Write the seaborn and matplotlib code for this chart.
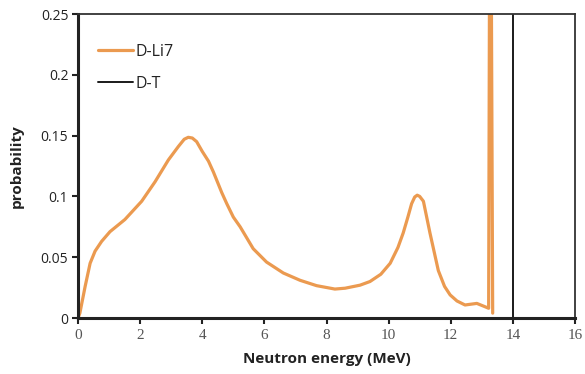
import matplotlib
matplotlib.use("Agg")
import matplotlib.pyplot as plt
import seaborn as sns
import pandas as pd

# D-Li7 neutron spectrum
li_energy = [0.0, 0.06, 0.23, 0.39, 0.55, 0.76, 1.03, 1.51, 2.05, 2.48, 2.91, 3.23, 3.42,
             3.55, 3.68, 3.82, 4.0, 4.20, 4.36, 4.63, 4.79, 5.0, 5.22, 5.64, 6.07, 6.61,
             7.15, 7.68, 8.27, 8.6, 9.08, 9.40, 9.75, 10.05, 10.3, 10.47, 10.62, 10.74,
             10.84, 10.92, 11.0, 11.12, 11.33, 11.6, 11.8, 11.98, 12.2, 12.46, 12.84,
             13.1, 13.22, 13.27, 13.35]
li_prob = [0.000, 0.004, 0.026, 0.045, 0.055, 0.063, 0.071, 0.081, 0.096, 0.112, 0.130,
           0.141, 0.147, 0.1486, 0.148, 0.145, 0.137, 0.129, 0.120, 0.103, 0.094, 0.083,
           0.075, 0.057, 0.046, 0.037, 0.031, 0.0266, 0.0238, 0.0245, 0.027, 0.030,
           0.036, 0.045, 0.058, 0.070, 0.083, 0.094, 0.0995, 0.101, 0.1, 0.096, 0.070,
           0.039, 0.026, 0.019, 0.014, 0.0107, 0.012, 0.0093, 0.008, 0.50, 0.004]

# D-T mono-energetic line
dt_energy = [14.0, 14.0]
dt_prob = [0.0, 1.0]

x_ticks = [0, 2, 4, 6, 8, 10, 12, 14, 16]
y_ticks = [0, 0.05, 0.1, 0.15, 0.2, 0.25]
y_ticklabels = ["0", "0.05", "0.1", "0.15", "0.2", "0.25"]

sns.set_theme(style="white")
plt.rcParams['font.family'] = ['Open Sans', 'DejaVu Sans']

fig = plt.figure(figsize=(5.85, 3.74), dpi=100)
ax = fig.add_axes([78/585, 1 - 318/374, (575-78)/585, (318-14)/374])

df_li = pd.DataFrame({"energy": li_energy, "prob": li_prob})
df_dt = pd.DataFrame({"energy": dt_energy, "prob": dt_prob})

sns.lineplot(data=df_li, x="energy", y="prob", ax=ax, estimator=None, sort=False,
             color="#EB9A50", linewidth=2.3, label="D-Li7")
sns.lineplot(data=df_dt, x="energy", y="prob", ax=ax, estimator=None, sort=False,
             color="#1a1a1a", linewidth=1.4, label="D-T")
for ln in ax.get_lines():
    ln.set_solid_joinstyle("round")
    ln.set_solid_capstyle("round")

ax.set_xlim(0, 16)
ax.set_ylim(0, 0.25)
ax.set_xticks(x_ticks)
ax.set_xticklabels([str(t) for t in x_ticks], family="Liberation Serif", fontsize=11, color="#555555")
ax.set_yticks(y_ticks)
ax.set_yticklabels(y_ticklabels, fontsize=10, color="#222222")

ax.tick_params(axis="both", direction="out", length=4, width=1.5, color="#222222",
               bottom=True, left=True, top=False, right=False)
ax.tick_params(axis="x", pad=4)
ax.tick_params(axis="y", pad=3)

for side in ["left", "bottom"]:
    ax.spines[side].set_linewidth(2.2)
    ax.spines[side].set_color("#222222")
for side in ["top", "right"]:
    ax.spines[side].set_visible(True)
    ax.spines[side].set_linewidth(1.3)
    ax.spines[side].set_color("#333333")

ax.set_xlabel("Neutron energy (MeV)", fontsize=11, fontweight="bold", color="#222222", labelpad=7)
ax.set_ylabel("probability", fontsize=11, fontweight="bold", color="#222222", labelpad=12)

leg = ax.legend(loc="upper left", bbox_to_anchor=(0.012, 0.95), frameon=False,
                fontsize=11.5, handlelength=2.2, handletextpad=0.15, labelspacing=1.0)
for t in leg.get_texts():
    t.set_color("#222222")

fig.savefig("out.png", dpi=100)
